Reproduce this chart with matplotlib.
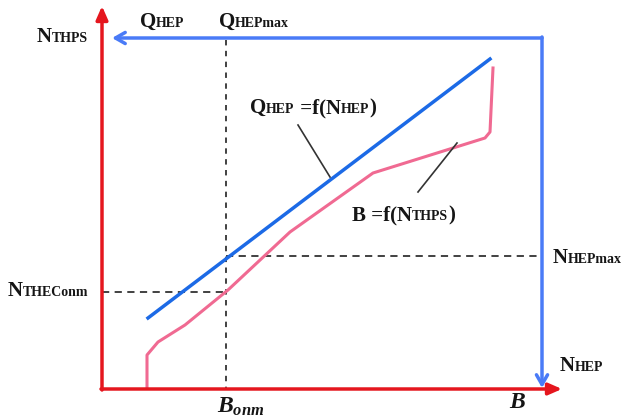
import matplotlib
matplotlib.use("Agg")
import matplotlib.pyplot as plt
from matplotlib.offsetbox import TextArea, HPacker, AnnotationBbox

plt.rcParams['mathtext.fontset'] = 'custom'
plt.rcParams['mathtext.rm'] = 'Liberation Serif:bold'
plt.rcParams['mathtext.it'] = 'Liberation Serif:bold:italic'
plt.rcParams['mathtext.bf'] = 'Liberation Serif:bold'

# Schematic coordinates (diagram units, y grows downward)
q_line_x = [148, 490]
q_line_y = [318, 59]
b_curve_x = [147, 147, 158, 185, 228, 290, 373, 485, 490, 493]
b_curve_y = [388, 355, 342, 325, 290, 232, 173, 138, 132, 68]
b_onm = 226
n_theconm = 292
n_hepmax = 256

RED = '#e5161e'
BLUE_FRAME = '#4a7bf7'
BLUE_LINE = '#1c6ae6'
PINK = '#f06a92'
INK = '#151515'

fig = plt.figure(figsize=(6.24, 4.2), dpi=100)
ax = fig.add_axes([0, 0, 1, 1])
ax.set_xlim(0, 624)
ax.set_ylim(420, 0)
ax.axis('off')

# Red axes with filled heads
ax.annotate('', xy=(102, 6), xytext=(102, 390),
            arrowprops=dict(arrowstyle='-|>,head_length=0.8,head_width=0.35', color=RED, lw=2.5, shrinkA=0, shrinkB=0))
ax.annotate('', xy=(562, 389), xytext=(101, 389),
            arrowprops=dict(arrowstyle='-|>,head_length=0.8,head_width=0.35', color=RED, lw=2.5, shrinkA=0, shrinkB=0))

# Blue frame with open arrows
ax.annotate('', xy=(112, 38), xytext=(542, 38),
            arrowprops=dict(arrowstyle='->,head_length=0.7,head_width=0.4', color=BLUE_FRAME, lw=2.5, shrinkA=0, shrinkB=0))
ax.annotate('', xy=(542, 388), xytext=(542, 37),
            arrowprops=dict(arrowstyle='->,head_length=0.7,head_width=0.4', color=BLUE_FRAME, lw=2.5, shrinkA=0, shrinkB=0))

# Dashed guides
ax.plot([b_onm, b_onm], [40, 389], color='#333333', lw=1.3, ls=(0, (3, 3)))
ax.plot([102, b_onm], [n_theconm, n_theconm], color='#333333', lw=1.3, ls=(0, (4, 3)))
ax.plot([b_onm, 540], [n_hepmax, n_hepmax], color='#333333', lw=1.3, ls=(0, (4, 3)))

# Curves
ax.plot(q_line_x, q_line_y, color=BLUE_LINE, lw=2.5)
ax.plot(b_curve_x, b_curve_y, color=PINK, lw=2.2)

# Leader lines
ax.plot([298, 330], [125, 177], color='#333333', lw=1.2)
ax.plot([418, 457], [192, 143], color='#333333', lw=1.2)

BIG = 15
SMALL = 10

def label(x, y, parts):
    kids = []
    for s, size in parts:
        kids.append(TextArea(s, textprops=dict(fontsize=size, family='Liberation Serif',
                                               weight='bold', color=INK)))
    pack = HPacker(children=kids, align='baseline', pad=0, sep=0)
    ab = AnnotationBbox(pack, (x, y), xycoords='data', box_alignment=(0, 0.5),
                        frameon=False, pad=0)
    ax.add_artist(ab)

label(37, 37, [('N', BIG), ('THPS', SMALL)])
label(140, 22, [('Q', BIG), ('HEP', SMALL)])
label(219, 22, [('Q', BIG), ('HEPmax', SMALL)])
label(250, 108, [('Q', BIG), ('HEP', SMALL), (' =f(N', BIG), ('HEP', SMALL), (')', BIG)])
label(352, 215, [('B =f(N', BIG), ('THPS', SMALL), (')', BIG)])
label(553, 258, [('N', BIG), ('HEPmax', SMALL)])
label(8, 291, [('N', BIG), ('THEConm', SMALL)])
label(560, 366, [('N', BIG), ('HEP', SMALL)])

ax.text(217, 406, r'$\mathit{B}_{\mathit{onm}}$', fontsize=17, ha='left', va='center', color=INK)
ax.text(509, 401, r'$\mathit{B}$', fontsize=17, ha='left', va='center', color=INK)

fig.savefig('out.png', dpi=100)
